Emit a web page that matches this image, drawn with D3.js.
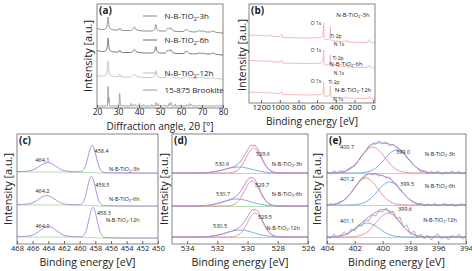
<!DOCTYPE html>
<head>
  <meta charset="utf-8">
  <title>N-B-TiO2 XRD and XPS</title>
  <style>
    body { margin: 0; background: #fff; }
    .frame { fill: none; stroke: #666; stroke-width: 0.8; }
    .line { fill: none; }
    text { font-family: 'Open Sans', sans-serif; fill: #222; }
  </style>
</head>
<body>
  <div id="chart"></div>
  <script src="https://d3js.org/d3.v7.min.js"></script>
  <script>
    // ---------- data ----------
    const sampleNames = ['N-B-TiO2-3h', 'N-B-TiO2-6h', 'N-B-TiO2-12h'];
    const xrdNames = ['N-B-TiO2-3h', 'N-B-TiO2-6h', 'N-B-TiO2-12h', '15-875 Brookite'];

    // (a) XRD, [2theta, intensity above trace baseline]
    const xrd3h = [[20,5],[21,4],[22,3.5],[23,3.5],[24,4],[24.7,6],[25,10],[25.3,16],[25.6,10],[26,5],[27,3.5],[29,3],[30.3,3],[30.8,5],[31.3,3],[33,2.5],[36,2.5],[37,3.5],[37.8,6],[38.6,3.5],[40,2.5],[43,2],[46,2],[47.4,3.5],[48,8.5],[48.6,3.5],[50,2],[52.5,2],[53.9,5],[54.5,3.8],[55.1,5.5],[56,2.5],[58,1.5],[61,1.5],[62.7,3.5],[64,1.5],[67,1],[68.8,2.3],[69.5,1.6],[70.3,2.2],[72,1],[74,1],[75.1,2],[76.5,0.8],[80,0]];
    const xrd6h = [[20,4.5],[21,4],[22,3.5],[23,3.5],[24,4],[24.7,6],[25,11],[25.3,17],[25.6,10],[26,5],[27,3.5],[29,3],[30.3,3],[30.8,5],[31.3,3],[33,2.5],[36,2.5],[37,3.5],[37.8,5.5],[38.6,3.5],[40,2.5],[43,2],[46,2],[47.4,3.5],[48,8.5],[48.6,3.5],[50,2],[52.5,2],[53.9,5],[54.5,4],[55.1,5.5],[56,2.5],[58,1.5],[61,1.5],[62.7,3.5],[64,1.5],[67,1],[68.8,2],[69.5,1.5],[70.3,2],[72,1],[74,1],[75.1,2],[76.5,0.8],[80,0]];
    const xrd12h = [[20,3.5],[21,3],[22,3],[23,3],[24,3.5],[24.7,6],[25,12],[25.3,18],[25.6,10],[26,5],[27,3],[29,2.5],[30.3,2.5],[30.8,5],[31.3,2.5],[33,2],[36,2],[37,3],[37.8,5],[38.6,3],[40,2],[43,1.5],[46,1.5],[47.4,3],[48,9],[48.6,3],[50,1.5],[52.5,1.5],[53.9,5],[54.5,3.5],[55.1,5],[56,2],[58,1],[61,1],[62.7,3],[64,1],[67,0.8],[68.8,2],[69.5,1.3],[70.3,1.8],[72,0.8],[74,0.8],[75.1,1.8],[76.5,0.5],[80,0]];
    const brookite = [[20,0.5],[24.9,0.5],[25.3,20],[25.55,4],[25.7,9],[26,0.5],[30.4,0.5],[30.8,13],[31.2,0.5],[32.5,0.5],[32.8,1.5],[33.1,0.5],[35.8,0.5],[36.2,3],[36.5,0.5],[37,0.5],[37.3,2],[37.6,0.5],[38.1,0.5],[38.4,2],[38.7,0.5],[39.9,0.5],[40.2,3],[40.5,0.5],[42,0.5],[42.3,2],[42.6,0.5],[45.8,0.5],[46.1,2],[46.4,0.5],[47.7,0.5],[48,4],[48.3,1],[49,1],[49.2,3],[49.5,0.5],[51.9,0.5],[52.1,1.5],[52.4,0.5],[53.9,0.5],[54.2,3],[54.6,1],[55.2,4],[55.6,0.5],[56.9,0.5],[57.2,2.5],[57.5,0.5],[59.7,0.5],[60,1.5],[60.3,0.5],[62.4,0.5],[62.7,2],[63,0.5],[63.8,0.5],[64.1,3],[64.5,1],[65,2],[65.3,0.5],[68.5,0.5],[68.8,1.5],[69.1,0.5],[70.1,0.5],[70.4,1.5],[70.7,0.5],[71.6,0.5],[71.9,1],[72.2,0.5],[73.4,0.5],[73.7,1],[74,0.5],[76.6,0.5],[76.9,1],[77.2,0.5],[80,0.5]];
    const xrdTicks = [20, 30, 40, 50, 60, 70, 80];

    // (b) survey spectra, [binding energy, intensity]
    const survey3h = [[1330,8],[1200,7.5],[1110,7],[1100,8.5],[1090,7],[1000,6.5],[985,7.5],[978,8.5],[970,5.5],[900,5.3],[700,5],[600,5.2],[560,5.5],[540,7],[533,14],[530,20],[527,10],[524,4],[510,3.5],[480,3.5],[470,4.5],[463,8],[460,12],[458,16],[455,6],[450,2.5],[420,2],[402,2.3],[398,2],[300,1.5],[288,2.8],[283,3],[278,1.2],[200,0.8],[100,0.5],[65,0.8],[60,2],[50,1],[38,3.5],[30,1],[10,0.5],[-20,0]];
    const survey6h = [[1330,7.5],[1200,7],[1110,6.5],[1100,8],[1090,6.5],[1000,6],[985,7],[978,8],[970,5],[900,4.8],[700,4.5],[600,4.7],[560,5],[540,6.5],[533,12],[530,18],[527,9],[524,3.5],[510,3],[480,3],[470,4],[463,7],[460,10],[458,13],[455,5],[450,2.2],[420,1.8],[402,2.1],[398,1.8],[300,1.3],[288,2.5],[283,2.6],[278,1],[200,0.7],[100,0.5],[65,0.7],[60,1.8],[50,0.9],[38,3],[30,0.8],[10,0.4],[-20,0]];
    const survey12h = [[1330,7],[1200,6.5],[1110,6],[1100,7.5],[1090,6],[1000,5.5],[985,6.5],[978,7.5],[970,4.5],[900,4.3],[700,4],[600,4.2],[560,4.5],[540,6],[533,11],[530,17],[527,8.5],[524,3.2],[510,2.8],[480,2.8],[470,3.8],[463,7],[460,10],[458,13],[455,5],[450,2],[420,1.6],[402,1.9],[398,1.6],[300,1.2],[288,2.3],[283,2.4],[278,1],[200,0.6],[100,0.4],[65,0.6],[60,1.6],[50,0.8],[38,2.8],[30,0.7],[10,0.3],[-20,0]];
    const surveyTicks = [1200, 1000, 800, 600, 400, 200, 0];
    const surveyPeaks = ['O 1s', 'Ti 2p', 'N 1s'];

    // (c) Ti 2p envelopes
    const ti3h = [[468,1.5],[467.1,1.6],[466.6,1.9],[466.1,2.7],[465.6,4.4],[465.1,7],[464.6,9.4],[464.1,10.5],[463.6,9.4],[463.1,7],[462.6,4.4],[462.1,2.6],[461.6,1.8],[461.1,1.4],[460.5,1.2],[459.9,1.3],[459.65,2.2],[459.4,4.4],[459.15,9.6],[458.9,17.2],[458.65,24.5],[458.4,27.7],[458.15,24.4],[457.9,17],[457.65,9.3],[457.4,4],[457.15,1.5],[456.9,0.6],[456.5,0.3],[455,0.1],[450,0]];
    const ti6h = [[468,1.5],[467.2,1.6],[466.7,1.9],[466.2,2.7],[465.7,4.4],[465.2,7],[464.7,9.4],[464.2,10.5],[463.7,9.4],[463.2,7],[462.7,4.4],[462.2,2.6],[461.7,1.8],[461.2,1.4],[460.6,1.2],[460,1.3],[459.75,2.3],[459.5,4.7],[459.25,10.3],[459,18.5],[458.75,26.3],[458.5,29.7],[458.25,26.2],[458,18.3],[457.75,10],[457.5,4.2],[457.25,1.6],[457,0.6],[456.6,0.3],[455,0.1],[450,0]];
    const ti12h = [[468,1.5],[467,1.6],[466.5,2],[466,3],[465.5,4.9],[465,7.7],[464.5,10.4],[464,11.5],[463.5,10.4],[463,7.7],[462.5,4.8],[462,2.8],[461.5,1.9],[461,1.4],[460.4,1.2],[459.8,1.3],[459.55,2.3],[459.3,4.8],[459.05,10.6],[458.8,19.1],[458.55,27.2],[458.3,30.7],[458.05,27.1],[457.8,18.9],[457.55,10.3],[457.3,4.3],[457.05,1.6],[456.8,0.6],[456.4,0.3],[455,0.1],[450,0]];
    const tiBase = [[468,1.1],[461,0.9],[459,0.5],[457.5,0],[450,-0.4]];
    const tiPeaks = [['464.1', '458.4'], ['464.2', '458.5'], ['464.0', '458.3']];
    const tiTicks = [468, 466, 464, 462, 460, 458, 456, 454, 452, 450];

    // (d) O 1s: envelope, lattice O (red), surface OH (blue)
    const oFit3h = [[535,0],[534,0],[533.5,0.05],[533,0.2],[532.5,0.65],[532,1.8],[531.5,3.7],[531.25,4.7],[531,5.9],[530.75,7.7],[530.5,10.9],[530.25,16.3],[530,23],[529.75,27.7],[529.5,27.3],[529.25,21.5],[529,13.4],[528.75,6.6],[528.5,2.6],[528.25,0.85],[528,0.25],[527.5,0.05],[527,0],[526,0]];
    const oFit6h = [[535,0],[534,0],[533.6,0.05],[533.1,0.2],[532.6,0.75],[532.1,2.1],[531.6,4.25],[531.35,5.5],[531.1,6.85],[530.85,8.65],[530.6,11.9],[530.35,17.2],[530.1,23.8],[529.85,28.3],[529.6,27.8],[529.35,21.8],[529.1,13.6],[528.85,6.7],[528.6,2.7],[528.35,0.9],[528.1,0.25],[527.6,0.05],[527,0],[526,0]];
    const oFit12h = [[535,0],[534,0],[533.4,0.05],[532.9,0.2],[532.4,0.75],[531.9,2.1],[531.4,4.25],[531.15,5.5],[530.9,6.8],[530.65,8.6],[530.4,11.7],[530.15,16.7],[529.9,22.9],[529.65,27.4],[529.4,26.8],[529.15,21.1],[528.9,13.1],[528.65,6.5],[528.4,2.6],[528.15,0.85],[527.9,0.25],[527.4,0.05],[527,0],[526,0]];
    const oRed3h = [[535,0],[531.4,0],[531.1,0.3],[530.85,1.1],[530.6,3.4],[530.35,8.1],[530.1,15.2],[529.85,22],[529.6,25],[529.35,22],[529.1,15.2],[528.85,8.1],[528.6,3.4],[528.35,1.1],[528.1,0.3],[527.8,0],[526,0]];
    const oRed6h = [[535,0],[531.5,0],[531.2,0.3],[530.95,1.1],[530.7,3.4],[530.45,8.1],[530.2,15.2],[529.95,22],[529.7,25],[529.45,22],[529.2,15.2],[528.95,8.1],[528.7,3.4],[528.45,1.1],[528.2,0.3],[527.9,0],[526,0]];
    const oRed12h = [[535,0],[531.3,0],[531,0.26],[530.75,1.06],[530.5,3.24],[530.25,7.8],[530,14.6],[529.75,21.2],[529.5,24],[529.25,21.2],[529,14.6],[528.75,7.8],[528.5,3.24],[528.25,1.06],[528,0.26],[527.7,0],[526,0]];
    const oBlue3h = [[535,0],[533.8,0],[533.3,0.07],[532.85,0.26],[532.4,0.81],[531.95,1.95],[531.5,3.64],[531.05,5.3],[530.6,6],[530.15,5.3],[529.7,3.64],[529.25,1.95],[528.8,0.81],[528.35,0.26],[527.9,0.07],[527.4,0],[526,0]];
    const oBlue6h = [[535,0],[533.9,0],[533.4,0.08],[532.95,0.31],[532.5,0.95],[532.05,2.3],[531.6,4.25],[531.15,6.2],[530.7,7],[530.25,6.2],[529.8,4.25],[529.35,2.3],[528.9,0.95],[528.45,0.31],[528,0.08],[527.5,0],[526,0]];
    const oBlue12h = [[535,0],[533.7,0],[533.2,0.08],[532.75,0.31],[532.3,0.95],[531.85,2.3],[531.4,4.25],[530.95,6.2],[530.5,7],[530.05,6.2],[529.6,4.25],[529.15,2.3],[528.7,0.95],[528.25,0.31],[527.8,0.08],[527.3,0],[526,0]];
    const oBase = [[535,-0.5],[526,-0.5]];
    const oPeaks = [['529.6', '530.6'], ['529.7', '530.7'], ['529.5', '530.5']];
    const oTicks = [534, 532, 530, 528, 526];

    // (e) N 1s: raw counts, envelope, two components
    const nRawGrid = [404,403.75,403.5,403.25,403,402.75,402.5,402.25,402,401.75,401.5,401.25,401,400.75,400.5,400.25,400,399.75,399.5,399.25,399,398.75,398.5,398.25,398,397.75,397.5,397.25,397,396.75,396.5,396.25,396,395.75,395.5,395.25,395,394.75,394.5,394.25,394];
    const nRaw3h = [1.5,-1,2,0.5,2.5,0.5,4,6,7,12,18,21,27,29,29,32,29,31,27,29,25,23,21,15,12,8,5,1,2.5,-1,1.5,0,2,-1.5,1,-0.5,2,0,1.5,-1,1];
    const nRaw6h = [-1,1.5,0,2,3.5,5,9,12,18,22,27,28,32,30,32,29,30,27,28,23,21,15,12,8,5,3,0.5,2,-1,1,-0.5,1.5,-1,0.5,1.5,-0.5,1,-1.5,0.5,1,-0.5];
    const nRaw12h = [1,-1.5,3,0,2,5,2.5,8,6,12,11,17,16,22,21,26,25,29,24,26,18,20,10,12,3,6,-1,3,-2,2,-3,1,3,-2,1,-3,2,-1,3,-2,1];
    const nFitGrid = [404,403.5,403,402.5,402,401.5,401,400.5,400,399.5,399,398.5,398,397.5,397,396.5,396,395.5,395,394.5,394];
    const nFit3h = [0.01,0.11,0.67,2.8,8.1,17,25.9,30.1,30,28.9,26.5,20.2,11.7,4.9,1.45,0.3,0.05,0,0,0,0];
    const nFit6h = [0.12,0.7,2.9,8.4,17.6,26.9,31.1,30.7,29.2,26.6,20.3,11.7,4.85,1.45,0.3,0.05,0,0,0,0,0];
    const nFit12h = [0.04,0.26,1.15,3.7,8.4,14.5,20.1,24.6,27.6,26.2,19.4,10.5,4.1,1.13,0.22,0.03,0,0,0,0,0];
    const nRed3h = [[404,0],[403.7,0],[403.25,0.3],[402.83,1.1],[402.4,3.5],[401.98,8.5],[401.55,15.8],[401.13,22.9],[400.7,26],[400.28,22.9],[399.85,15.8],[399.43,8.5],[399,3.5],[398.58,1.1],[398.15,0.3],[397.7,0],[394,0]];
    const nBlue3h = [[404,0],[402,0],[401.55,0.25],[401.13,1],[400.7,3.1],[400.28,7.5],[399.85,14],[399.43,20.3],[399,23],[398.58,20.3],[398.15,14],[397.73,7.5],[397.3,3.1],[396.88,1],[396.45,0.25],[396,0],[394,0]];
    const nRed6h = [[404,0.05],[403.75,0.3],[403.33,1.2],[402.9,3.6],[402.48,8.8],[402.05,16.4],[401.63,23.8],[401.2,27],[400.78,23.8],[400.35,16.4],[399.93,8.8],[399.5,3.6],[399.08,1.2],[398.65,0.3],[398.2,0],[394,0]];
    const nBlue6h = [[404,0],[402.5,0],[402.05,0.25],[401.63,1],[401.2,3.1],[400.78,7.5],[400.35,14],[399.93,20.3],[399.5,23],[399.08,20.3],[398.65,14],[398.23,7.5],[397.8,3.1],[397.38,1],[396.95,0.25],[396.5,0],[394,0]];
    const nBlue12h = [[404,0.02],[403.65,0.15],[403.23,0.62],[402.8,1.9],[402.38,4.55],[401.95,8.5],[401.53,12.3],[401.1,14],[400.68,12.3],[400.25,8.5],[399.83,4.55],[399.4,1.9],[398.98,0.62],[398.55,0.15],[398.1,0],[394,0]];
    const nRed12h = [[404,0],[402.6,0],[402.15,0.26],[401.73,1.06],[401.3,3.24],[400.88,7.8],[400.45,14.6],[400.03,21.2],[399.6,24],[399.18,21.2],[398.75,14.6],[398.33,7.8],[397.9,3.24],[397.48,1.06],[397.05,0.26],[396.6,0],[394,0]];
    const nBase = [[404,-0.5],[394,-0.5]];
    const nPeaks = [['400.7', '399.0'], ['401.2', '399.5'], ['401.1', '399.6']];
    const nTicks = [404, 402, 400, 398, 396, 394];

    // ---------- drawing ----------
    const purple = '#b58fdc', red = '#f2888a', blue = '#6ea6e8', green = '#a9dcaa', raw = '#8c8c8c', pink = '#f3a6a6';

    const svg = d3.select('#chart').append('svg')
      .attr('width', 472).attr('height', 271);

    function makePanel(id, f, xDomain) {
      const g = svg.append('g');
      const x = d3.scaleLinear().domain(xDomain).range([f.l, f.r]);
      const y = d3.scaleLinear().domain([0, f.b - f.t]).range([f.b, f.t]);
      svg.append('clipPath').attr('id', 'clip-' + id)
        .append('rect').attr('x', f.l).attr('y', f.t).attr('width', f.r - f.l).attr('height', f.b - f.t);
      const plot = g.append('g').attr('clip-path', `url(#clip-${id})`);
      return { g, plot, x, y, f };
    }

    function drawLine(p, pts, off, color, w) {
      let line = d3.line()
        .x(d => p.x(d[0]))
        .y(d => p.y(d[1] + off))
        .curve(d3.curveMonotoneX);
      p.plot.append('path')
        .datum(pts)
        .attr('class', 'line')
        .attr('stroke', color)
        .attr('stroke-width', w || 0.9)
        .attr('d', line);
    }

    function zip(xs, ys) { return xs.map((v, i) => [v, ys[i]]); }

    function nameText(sel, name, fs) {
      const parts = name.split('TiO2');
      sel.attr('font-size', fs);
      if (parts.length < 2) { sel.text(name); return; }
      sel.append('tspan').text(parts[0] + 'TiO');
      sel.append('tspan').text('2').attr('font-size', fs * 0.7).attr('dy', fs * 0.28);
      sel.append('tspan').text(parts[1]).attr('dy', -fs * 0.28);
    }

    function label(p, text, xv, yv, fs, anchor) {
      const t = p.g.append('text')
        .attr('x', p.x(xv)).attr('y', p.y(yv))
        .attr('text-anchor', anchor || 'middle');
      nameText(t, text, fs);
    }

    function frame(p, tag, ticks, tick, xTitle, xTitleY, xTitleLen, yTitleX, yTitleC) {
      const f = p.f;
      let ax = d3.axisBottom(p.x).tickValues(ticks).tickSizeInner(-3).tickSizeOuter(0)
        .tickPadding(tick.pad).tickFormat(d3.format('d'));
      let ga = p.g.append('g').attr('transform', `translate(0, ${f.b})`).call(ax);
      ga.select('.domain').remove();
      ga.selectAll('line').attr('stroke', '#666');
      ga.selectAll('text').attr('font-family', tick.font).attr('font-size', tick.size).attr('fill', '#222');
      p.g.append('rect').attr('class', 'frame')
        .attr('x', f.l).attr('y', f.t).attr('width', f.r - f.l).attr('height', f.b - f.t);
      p.g.append('text').text(tag)
        .attr('x', f.l + 2).attr('y', f.t + 10)
        .attr('font-size', 10).attr('font-weight', 'bold');
      p.g.append('text').text(xTitle)
        .attr('x', (f.l + f.r) / 2).attr('y', xTitleY)
        .attr('text-anchor', 'middle').attr('font-size', 11.5)
        .attr('textLength', xTitleLen).attr('lengthAdjust', 'spacingAndGlyphs');
      p.g.append('text').text('Intensity [a.u.]')
        .attr('transform', `translate(${yTitleX}, ${yTitleC}) rotate(-90)`)
        .attr('text-anchor', 'middle').attr('font-size', 11)
        .attr('textLength', 72).attr('lengthAdjust', 'spacingAndGlyphs');
    }

    const sansTick = { font: "'Open Sans', sans-serif", size: 8, pad: 1.5 };

    // (a) XRD
    const pa = makePanel('a', { l: 97, r: 223, t: 4, b: 108 }, [20, 80]);
    const xrdSets = [xrd3h, xrd6h, xrd12h, brookite];
    const xrdColors = ['#858585', '#6c6c6c', '#c2c2c2', '#9a9a9a'];
    const xrdOffsets = [75, 53, 29, 1.5];
    xrdSets.forEach((s, i) => drawLine(pa, s, xrdOffsets[i], xrdColors[i], 0.9));
    const legendY = [92, 68, 35, 18];
    xrdNames.forEach((n, i) => {
      pa.g.append('line')
        .attr('x1', pa.x(41.9)).attr('x2', pa.x(48.6))
        .attr('y1', pa.y(legendY[i])).attr('y2', pa.y(legendY[i]))
        .attr('stroke', xrdColors[i]).attr('stroke-width', 1);
      label(pa, n, 52.2, legendY[i] - 2.8, 8, 'start');
    });
    frame(pa, '(a)', xrdTicks, { font: "'Liberation Serif', serif", size: 8.5, pad: 1 },
      'Diffraction angle, 2\u03b8 [\u00b0]', 130, 107, 92, 56);

    // (b) survey
    const pb = makePanel('b', { l: 249, r: 375, t: 4, b: 103 }, [1330, -20]);
    const surveySets = [survey3h, survey6h, survey12h];
    const surveyOffsets = [60, 35, 4];
    surveySets.forEach((s, i) => drawLine(pb, s, surveyOffsets[i], pink, 0.8));
    const surveyLabelPos = [
      [[612, 78.5], [398, 65.5], [366, 57.5], [216, 86.5]],
      [[612, 51.5], [376, 43.5], [366, 28.5], [291, 37.5]],
      [[612, 20.5], [419, 19.5], [376, 2.5], [216, 11.5]]
    ];
    surveyLabelPos.forEach((pos, i) => {
      surveyPeaks.forEach((t, j) => label(pb, t, pos[j][0], pos[j][1], 5));
      label(pb, sampleNames[i], pos[3][0], pos[3][1], 6);
    });
    frame(pb, '(b)', surveyTicks, sansTick, 'Binding energy [eV]', 125, 92, 246, 55);

    // (c) Ti 2p
    const pc = makePanel('c', { l: 17, r: 158, t: 134, b: 244 }, [468, 450]);
    const tiSets = [ti3h, ti6h, ti12h];
    const tiOffsets = [71, 38, 6];
    tiSets.forEach((s, i) => {
      drawLine(pc, tiBase, tiOffsets[i], green, 0.9);
      drawLine(pc, s, tiOffsets[i], purple, 1);
    });
    const tiLabelPos = [
      [[464.75, 82.5], [457.2, 91.5], [454.3, 73]],
      [[464.75, 51.5], [457.1, 57.5], [454.3, 43.5]],
      [[464.75, 16.5], [456.9, 29.5], [454.5, 22.5]]
    ];
    tiLabelPos.forEach((pos, i) => {
      label(pc, tiPeaks[i][0], pos[0][0], pos[0][1], 5.5);
      label(pc, tiPeaks[i][1], pos[1][0], pos[1][1], 5.5);
      label(pc, sampleNames[i], pos[2][0], pos[2][1], 5.5);
    });
    frame(pc, '(c)', tiTicks, { font: "'Open Sans', sans-serif", size: 7.5, pad: 1.5 },
      'Binding energy [eV]', 266, 96, 12, 189);

    // (d) O 1s
    const pd = makePanel('d', { l: 172, r: 308, t: 134, b: 244 }, [535, 526]);
    const oSets = [[oFit3h, oRed3h, oBlue3h], [oFit6h, oRed6h, oBlue6h], [oFit12h, oRed12h, oBlue12h]];
    const oOffsets = [71, 38, 7];
    oSets.forEach((s, i) => {
      drawLine(pd, oBase, oOffsets[i], green, 0.9);
      drawLine(pd, s[2], oOffsets[i], blue, 0.9);
      drawLine(pd, s[1], oOffsets[i], red, 0.9);
      drawLine(pd, s[0], oOffsets[i], purple, 1);
    });
    const oLabelPos = [
      [[528.98, 88.5], [531.69, 78.5], [527.39, 78.5]],
      [[529.04, 57.5], [531.62, 48.5], [527.39, 48.5]],
      [[528.85, 25.5], [531.82, 16.5], [527.65, 14.5]]
    ];
    oLabelPos.forEach((pos, i) => {
      label(pd, oPeaks[i][0], pos[0][0], pos[0][1], 5.5);
      label(pd, oPeaks[i][1], pos[1][0], pos[1][1], 5.5);
      label(pd, sampleNames[i], pos[2][0], pos[2][1], 5.5);
    });
    frame(pd, '(d)', oTicks, sansTick, 'Binding energy [eV]', 266, 97, 168, 189);

    // (e) N 1s
    const pe = makePanel('e', { l: 327, r: 466, t: 134, b: 244 }, [404, 394]);
    const nSets = [
      [nRaw3h, nFit3h, nRed3h, nBlue3h],
      [nRaw6h, nFit6h, nRed6h, nBlue6h],
      [nRaw12h, nFit12h, nRed12h, nBlue12h]
    ];
    const nOffsets = [71, 39, 7];
    nSets.forEach((s, i) => {
      drawLine(pe, nBase, nOffsets[i], green, 0.9);
      drawLine(pe, s[2], nOffsets[i], red, 0.9);
      drawLine(pe, s[3], nOffsets[i], blue, 0.9);
      const rawLine = d3.line().x(d => pe.x(d[0])).y(d => pe.y(d[1] + nOffsets[i]));
      pe.plot.append('path').datum(zip(nRawGrid, s[0]))
        .attr('class', 'line').attr('stroke', raw).attr('stroke-width', 0.7).attr('d', rawLine);
      drawLine(pe, zip(nFitGrid, s[1]), nOffsets[i], purple, 1);
    });
    const nLabelPos = [
      [[402.56, 95.5], [398.53, 90.5], [395.87, 88.5]],
      [[402.56, 63.5], [398.24, 58.5], [395.87, 56.5]],
      [[402.56, 21.5], [398.39, 33.5], [395.87, 22.5]]
    ];
    nLabelPos.forEach((pos, i) => {
      label(pe, nPeaks[i][0], pos[0][0], pos[0][1], 5.5);
      label(pe, nPeaks[i][1], pos[1][0], pos[1][1], 5.5);
      label(pe, sampleNames[i], pos[2][0], pos[2][1], 5.5);
    });
    frame(pe, '(e)', nTicks, sansTick, 'Binding energy [eV]', 266, 97, 321, 189);
  </script>
</body>
</html>
